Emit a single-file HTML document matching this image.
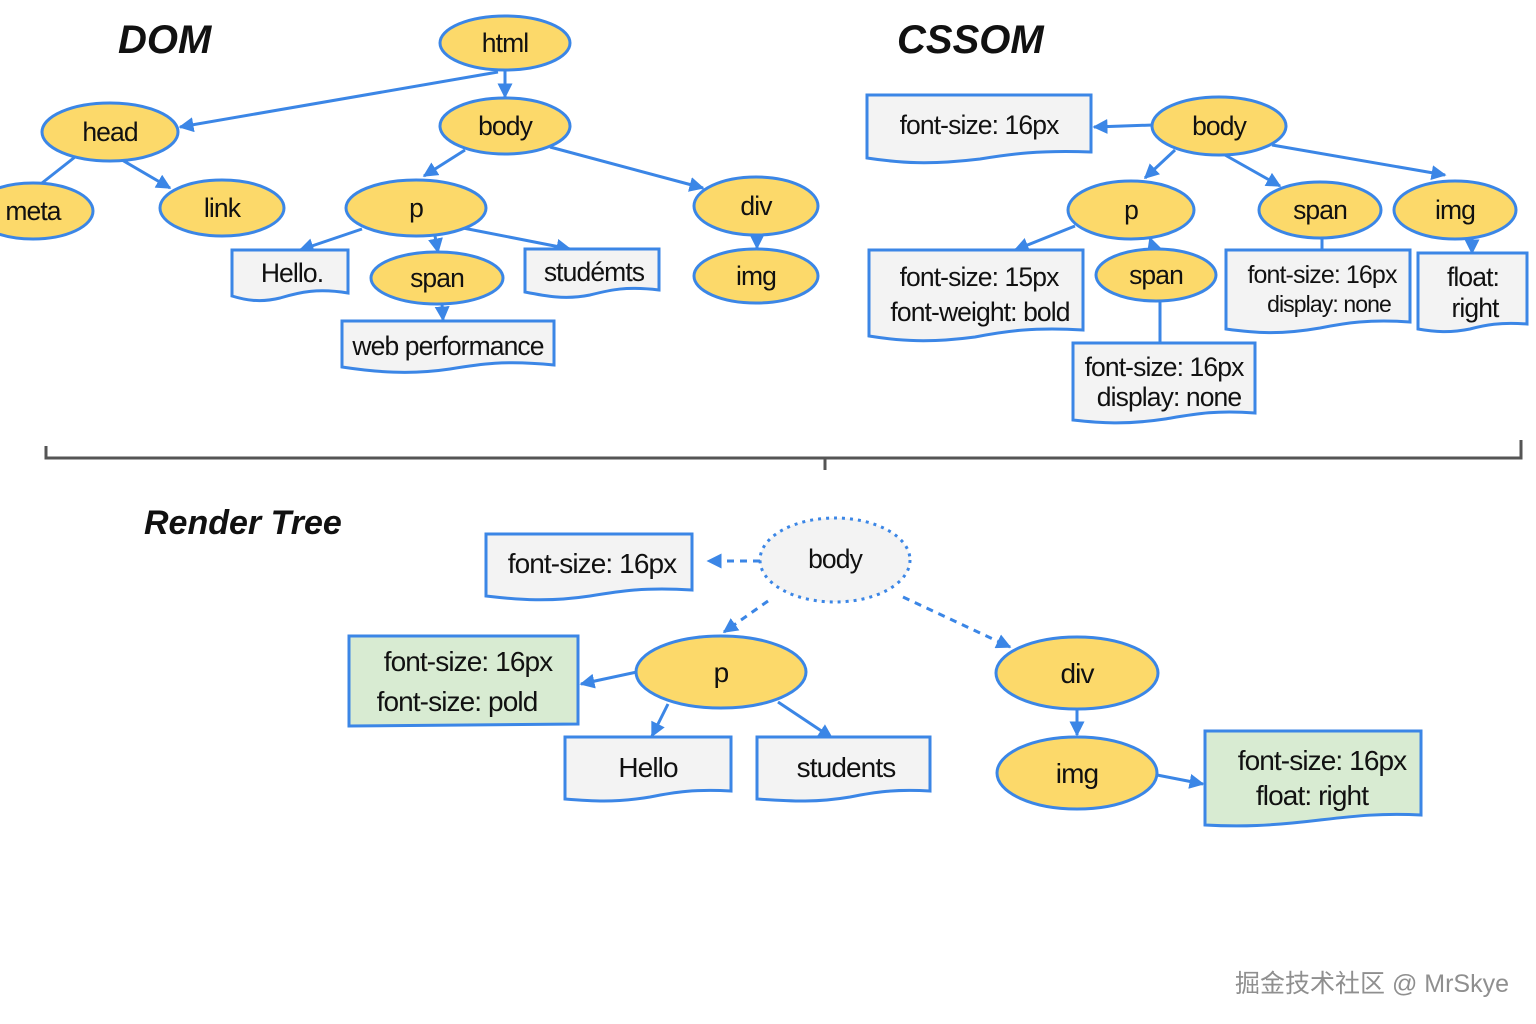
<!DOCTYPE html>
<html><head><meta charset="utf-8"><style>
html,body{margin:0;padding:0;background:#fff}
svg{display:block}
text{font-family:"Liberation Sans",Arial,sans-serif;font-size:26.5px;fill:#111;letter-spacing:-0.9px}
.e{fill:#fcd96a;stroke:#3b86e6;stroke-width:3}
.b{fill:#f3f3f3;stroke:#3b86e6;stroke-width:3}
.g{fill:#d8ebd2;stroke:#3b86e6;stroke-width:3}
.l{stroke:#3b86e6;stroke-width:3;fill:none}
.d{stroke:#3b86e6;stroke-width:3;fill:none;stroke-dasharray:7 6}
.t{font-weight:bold;font-style:italic;font-size:40px;letter-spacing:0}
.r{font-size:28px}
</style></head><body>
<svg width="1536" height="1024" viewBox="0 0 1536 1024">
<defs>
<marker id="a" viewBox="0 0 10 10" refX="9" refY="5" markerWidth="5" markerHeight="5" orient="auto"><path d="M0,0 L10,5 L0,10 z" fill="#3b86e6"/></marker>
</defs>
<text class="t" x="118" y="53">DOM</text>
<text class="t" x="897" y="53">CSSOM</text>
<text class="t" x="144" y="534" style="font-size:34px">Render Tree</text>

<!-- DOM lines -->
<path class="l" d="M498,72 L180,127" marker-end="url(#a)"/>
<path class="l" d="M505,70 L505,97" marker-end="url(#a)"/>
<path class="l" d="M465,150 L424,176" marker-end="url(#a)"/>
<path class="l" d="M550,147 L703,188" marker-end="url(#a)"/>
<path class="l" d="M75,157 L42,183"/>
<path class="l" d="M122,160 L170,188" marker-end="url(#a)"/>
<path class="l" d="M362,229 L300,250" marker-end="url(#a)"/>
<path class="l" d="M435,236 L438,252" marker-end="url(#a)"/>
<path class="l" d="M463,228 L570,249" marker-end="url(#a)"/>
<path class="l" d="M757,235 L757,248" marker-end="url(#a)"/>
<path class="l" d="M442,304 L443,320" marker-end="url(#a)"/>

<ellipse class="e" cx="505" cy="43" rx="65" ry="27"/><text x="505" y="52" text-anchor="middle">html</text>
<ellipse class="e" cx="110" cy="132" rx="68" ry="29"/><text x="110" y="141" text-anchor="middle">head</text>
<ellipse class="e" cx="505" cy="126" rx="65" ry="28"/><text x="505" y="135" text-anchor="middle">body</text>
<ellipse class="e" cx="33" cy="211" rx="60" ry="28"/><text x="33" y="220" text-anchor="middle">meta</text>
<ellipse class="e" cx="222" cy="208" rx="62" ry="28"/><text x="222" y="217" text-anchor="middle">link</text>
<ellipse class="e" cx="416" cy="208" rx="70" ry="28"/><text x="416" y="217" text-anchor="middle">p</text>
<ellipse class="e" cx="756" cy="206" rx="62" ry="29"/><text x="756" y="215" text-anchor="middle">div</text>
<ellipse class="e" cx="437" cy="278" rx="66" ry="26"/><text x="437" y="287" text-anchor="middle">span</text>
<ellipse class="e" cx="756" cy="276" rx="62" ry="27"/><text x="756" y="285" text-anchor="middle">img</text>
<path class="b" d="M232,250 H348 V293 C318,288 300,292 280,298 C260,303 245,300 232,296 Z"/><text x="292" y="282" text-anchor="middle">Hello.</text>
<path class="b" d="M525,249 H659 V290 C625,286 610,290 590,295 C565,300 545,296 525,292 Z"/><text x="594" y="281" text-anchor="middle">studémts</text>
<path class="b" d="M342,321 H554 V365 C505,360 480,364 450,369 C410,375 375,372 342,367 Z"/><text x="448" y="355" text-anchor="middle">web performance</text>

<!-- CSSOM -->
<path class="l" d="M1153,125 L1094,127" marker-end="url(#a)"/>
<path class="l" d="M1175,150 L1145,178" marker-end="url(#a)"/>
<path class="l" d="M1225,155 L1280,186" marker-end="url(#a)"/>
<path class="l" d="M1272,145 L1445,175" marker-end="url(#a)"/>
<path class="l" d="M1075,226 L1015,250" marker-end="url(#a)"/>
<path class="l" d="M1154,250 L1150,238" marker-end="url(#a)"/>
<path class="l" d="M1160,301 L1160,343"/>
<path class="l" d="M1322,238 L1322,250"/>
<path class="l" d="M1472,239 L1472,253" marker-end="url(#a)"/>
<path class="b" d="M867,95 H1091 V152 C1040,150 1010,154 980,159 C930,165 900,163 867,158 Z"/><text x="979" y="134" text-anchor="middle">font-size: 16px</text>
<ellipse class="e" cx="1219" cy="126" rx="67" ry="29"/><text x="1219" y="135" text-anchor="middle">body</text>
<ellipse class="e" cx="1131" cy="210" rx="63" ry="29"/><text x="1131" y="219" text-anchor="middle">p</text>
<ellipse class="e" cx="1320" cy="210" rx="61" ry="28"/><text x="1320" y="219" text-anchor="middle">span</text>
<ellipse class="e" cx="1455" cy="210" rx="61" ry="29"/><text x="1455" y="219" text-anchor="middle">img</text>
<path class="b" d="M869,250 H1083 V330 C1035,327 1005,331 975,337 C930,343 900,341 869,336 Z"/><text x="979" y="286" text-anchor="middle">font-size: 15px</text><text x="980" y="321" text-anchor="middle">font-weight: bold</text>
<ellipse class="e" cx="1156" cy="275" rx="60" ry="26"/><text x="1156" y="284" text-anchor="middle">span</text>
<path class="b" d="M1226,250 H1410 V322 C1370,319 1345,323 1320,328 C1280,335 1255,333 1226,329 Z"/><text x="1322" y="283" text-anchor="middle" style="font-size:25px">font-size: 16px</text><text x="1329" y="312" text-anchor="middle" style="font-size:23px">display: none</text>
<path class="b" d="M1418,253 H1527 V324 C1500,322 1485,325 1470,329 C1450,333 1435,332 1418,329 Z"/><text x="1473" y="286" text-anchor="middle">float:</text><text x="1475" y="317" text-anchor="middle">right</text>
<path class="b" d="M1073,343 H1255 V413 C1215,410 1195,414 1165,419 C1125,425 1100,423 1073,420 Z"/><text x="1164" y="376" text-anchor="middle">font-size: 16px</text><text x="1169" y="406" text-anchor="middle">display: none</text>

<!-- brace -->
<path d="M46,446 V458 H1521 V440 M825,458 V470" stroke="#555" stroke-width="3" fill="none"/>

<!-- Render tree -->
<path class="d" d="M760,561 L708,561" marker-end="url(#a)"/>
<path class="d" d="M768,601 L724,632" marker-end="url(#a)"/>
<path class="d" d="M903,597 L1010,647" marker-end="url(#a)"/>
<path class="l" d="M637,672 L581,684" marker-end="url(#a)"/>
<path class="l" d="M668,704 L652,736" marker-end="url(#a)"/>
<path class="l" d="M778,702 L832,738" marker-end="url(#a)"/>
<path class="l" d="M1077,709 L1077,735" marker-end="url(#a)"/>
<path class="l" d="M1157,775 L1203,784" marker-end="url(#a)"/>
<path class="b" d="M486,534 H692 V590 C645,587 620,591 590,596 C550,602 520,600 486,596 Z"/><text x="592" y="573" text-anchor="middle" class="r">font-size: 16px</text>
<ellipse cx="835" cy="560" rx="75" ry="42" fill="#f3f3f3" stroke="#3b86e6" stroke-width="3" stroke-dasharray="3 5"/><text x="835" y="568" text-anchor="middle">body</text>
<path class="g" d="M349,636 H578 V724 L349,726 Z"/><text x="468" y="671" text-anchor="middle" class="r">font-size: 16px</text><text x="457" y="711" text-anchor="middle" class="r">font-size: pold</text>
<ellipse class="e" cx="721" cy="672" rx="85" ry="36"/><text x="721" y="682" text-anchor="middle" class="r">p</text>
<ellipse class="e" cx="1077" cy="673" rx="81" ry="36"/><text x="1077" y="683" text-anchor="middle" class="r">div</text>
<path class="b" d="M565,737 H731 V791 C695,789 675,792 650,797 C615,803 590,801 565,799 Z"/><text x="648" y="777" text-anchor="middle" class="r">Hello</text>
<path class="b" d="M757,737 H930 V791 C895,789 875,792 850,797 C815,803 790,801 757,799 Z"/><text x="846" y="777" text-anchor="middle" class="r">students</text>
<ellipse class="e" cx="1077" cy="773" rx="80" ry="36"/><text x="1077" y="783" text-anchor="middle" class="r">img</text>
<path class="g" d="M1205,731 H1421 V815 C1380,813 1355,816 1320,820 C1270,826 1240,827 1205,825 Z"/><text x="1322" y="770" text-anchor="middle" class="r">font-size: 16px</text><text x="1312" y="805" text-anchor="middle" class="r">float: right</text>

<text x="1235" y="992" style="font-family:'Liberation Sans','Noto Sans CJK SC',sans-serif;font-size:25px;fill:#8f8f8f;letter-spacing:0">掘金技术社区 @ MrSkye</text>
</svg>
</body></html>
